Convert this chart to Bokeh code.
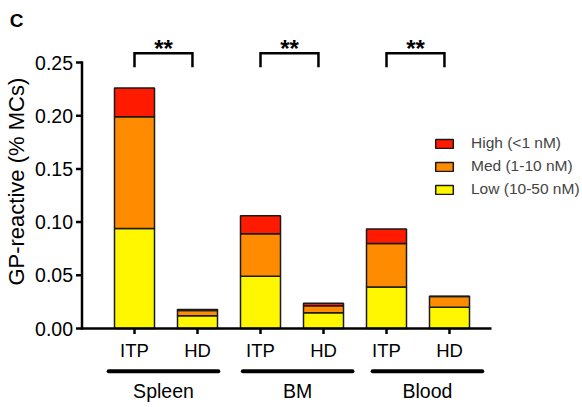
import math
from bokeh.plotting import figure
from bokeh.models import Range1d, ColumnDataSource, Legend, LegendItem
from bokeh.core.properties import value
from bokeh.embed import file_html
from bokeh.resources import INLINE

# ---- data ----
tissues = ["Spleen", "BM", "Blood"]
groups = ["ITP", "HD", "ITP", "HD", "ITP", "HD"]
low = [0.094, 0.012, 0.049, 0.0147, 0.039, 0.020]
med = [0.105, 0.005, 0.040, 0.0066, 0.041, 0.010]
high = [0.027, 0.0008, 0.017, 0.0025, 0.0135, 0.0004]
series_labels = ["Low (10-50 nM)", "Med (1-10 nM)", "High (<1 nM)"]
colors = ["#FFF700", "#FF8C00", "#FF1A00"]
y_ticks = [0.0, 0.05, 0.10, 0.15, 0.20, 0.25]
y_tick_labels = ["0.00", "0.05", "0.10", "0.15", "0.20", "0.25"]
y_title = "GP-reactive (% MCs)"
panel_letter = "C"
significance = ["**", "**", "**"]

FONT = "Liberation Sans"
x_pos = list(range(len(groups)))

W, H = 582, 407
PX_X = 63.0      # pixels per category step
PX_Y = 1064.0    # pixels per unit of y
x0_px, y0_px = 134.0, 328.0

p = figure(width=W, height=H, output_backend="svg", toolbar_location=None,
           x_range=Range1d(-x0_px / PX_X, (W - x0_px) / PX_X),
           y_range=Range1d(-(H - y0_px) / PX_Y, y0_px / PX_Y),
           x_axis_location=None, y_axis_location=None,
           min_border=0, min_border_left=0, min_border_right=0,
           min_border_top=0, min_border_bottom=0)
p.outline_line_color = None
p.grid.visible = False

def px(dx):
    return dx / PX_X

def py(dy):
    return dy / PX_Y

# ---- stacked bars ----
src = ColumnDataSource(dict(x=x_pos, low=low, med=med, high=high))
rs = p.vbar_stack(["low", "med", "high"], x="x", width=0.635, color=colors,
                  line_color="#1a1a1a", line_width=1.5, source=src)

legend = Legend(items=[LegendItem(label=series_labels[i], renderers=[rs[i]]) for i in (2, 1, 0)],
                location=(433, 208), padding=0, spacing=3, glyph_width=22, glyph_height=11,
                label_height=20, label_standoff=16, label_text_font=FONT,
                label_text_font_size="15.5px", border_line_color=None, background_fill_alpha=0)
p.add_layout(legend)

# ---- y axis (drawn) ----
ax_x = -0.5 - px(21)   # axis sits 42px left of first bar centre
p.segment(x0=[ax_x], y0=[y_ticks[0]], x1=[ax_x], y1=[y_ticks[-1]], line_width=2.5,
          line_color="black", line_cap="square")
p.segment(x0=[ax_x] * len(y_ticks), y0=y_ticks, x1=[ax_x - px(6)] * len(y_ticks), y1=y_ticks,
          line_width=2.5, line_color="black")
p.text(x=[ax_x - px(9)] * len(y_ticks), y=y_ticks, text=y_tick_labels, text_align="right",
       text_baseline="middle", text_font=value(FONT), text_font_size="19.5px", text_color="black")
p.text(x=[ax_x - px(66)], y=[0.138], text=[y_title], angle=math.pi / 2, text_align="center",
       text_baseline="middle", text_font=value(FONT), text_font_size="22px", text_color="black")

# ---- x axis (drawn) ----
x_end = x_pos[-1] + 0.5 + px(10.5)
p.segment(x0=[ax_x], y0=[0], x1=[x_end], y1=[0], line_width=2.5, line_color="black")
p.segment(x0=x_pos, y0=[0] * len(x_pos), x1=x_pos, y1=[-py(5.5)] * len(x_pos),
          line_width=2.5, line_color="black")
p.text(x=x_pos, y=[-py(22)] * len(x_pos), text=groups, text_align="center", text_baseline="middle",
       text_font=value(FONT), text_font_size="18.5px", text_color="black")

# tissue group underlines and labels
tissue_center = [0.46, 2.59, 4.65]
half = 0.87
p.segment(x0=[c - half for c in tissue_center], y0=[-py(42.7)] * 3,
          x1=[c + half for c in tissue_center], y1=[-py(42.7)] * 3,
          line_width=4, line_color="black", line_cap="round")
p.text(x=tissue_center, y=[-py(62)] * 3, text=tissues, text_align="center", text_baseline="middle",
       text_font=value(FONT), text_font_size="19.5px", text_color="black")

# ---- significance brackets ----
bx0 = [x_pos[2 * i] for i in range(3)]
bx1 = [x_pos[2 * i + 1] - 0.08 for i in range(3)]
b_top, b_bot = py(328 - 52.7), py(328 - 66.7)
p.multi_line(xs=[[a, a, b, b] for a, b in zip(bx0, bx1)],
             ys=[[b_bot, b_top, b_top, b_bot] for _ in bx0],
             line_width=2.5, line_color="black", line_join="miter")
p.text(x=[(a + b) / 2 for a, b in zip(bx0, bx1)], y=[py(328 - 47.5)] * 3, text=significance,
       text_align="center", text_baseline="middle", text_font=value(FONT),
       text_font_size="24px", text_font_style="bold", text_color="black")

# ---- panel letter ----
p.text(x=[-x0_px / PX_X + px(16)], y=[py(328 - 20)], text=[panel_letter], text_align="center",
       text_baseline="middle", text_font=value(FONT), text_font_size="19px",
       text_font_style="bold", text_color="black")

open("out.html", "w").write(file_html(p, INLINE))
